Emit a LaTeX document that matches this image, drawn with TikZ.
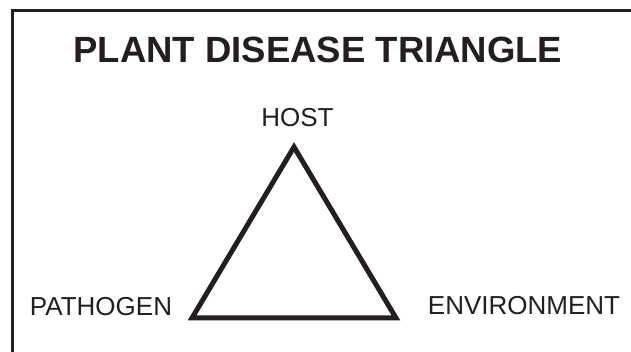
\documentclass[tikz,border=0pt]{standalone}
\usepackage{fontspec}
\setmainfont{Liberation Sans}
\definecolor{ink}{HTML}{231F20}
\begin{document}
\begin{tikzpicture}[x=1pt, y=1pt, ink,
    title/.style={font=\fontsize{36.5}{40}\selectfont\bfseries, text=ink},
    factor/.style={font=\fontsize{26}{28}\selectfont, text=ink},
    side/.style={line width=5pt, line join=miter, draw=ink}]
    \useasboundingbox (0,0) rectangle (631,352);
    \coordinate (corner) at (12.8,341.5);
    \coordinate (bottomend) at (12.8,0);
    \coordinate (rightend) at (631,341.5);
    \draw[line width=3pt] (bottomend) -- (corner) -- (rightend);

    \node[title] (head) at (318,302) {PLANT DISEASE TRIANGLE};

    % corners of the triangle
    \coordinate (top) at (294,205);
    \coordinate (left) at (192,34);
    \coordinate (right) at (396,34);
    \draw[side] (top) -- (left) -- (right) -- cycle;

    % the three factors
    \node[factor] (host) at (297.5,234) {HOST};
    \node[factor] (pathogen) at (101,45) {PATHOGEN};
    \node[factor] (environment) at (524,46) {ENVIRONMENT};
\end{tikzpicture}
\end{document}
